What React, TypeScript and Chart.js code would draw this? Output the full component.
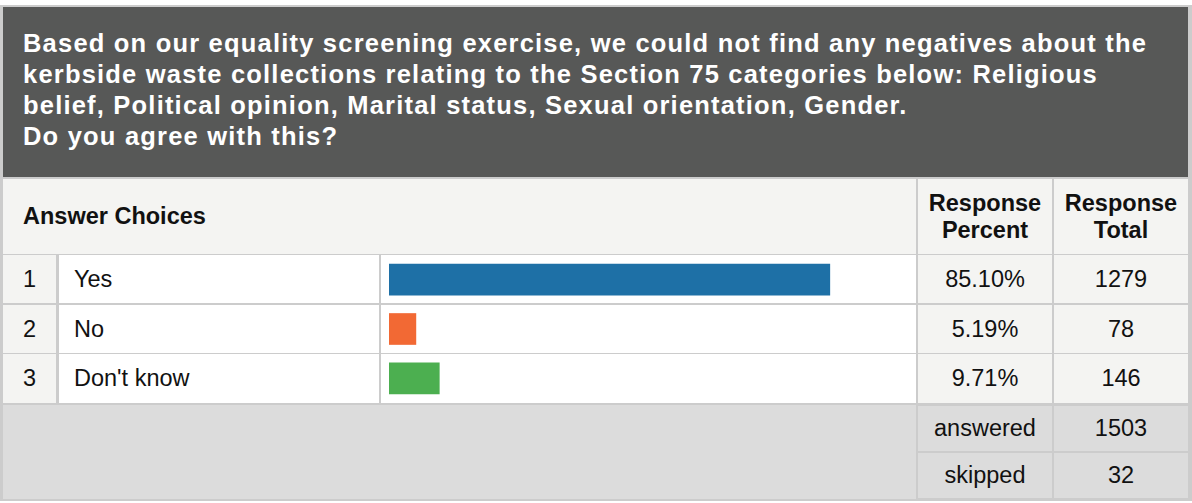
import React, { useEffect, useRef } from "react";
import { Chart, registerables } from "chart.js";

Chart.register(...registerables);

const titleLines = [
  "Based on our equality screening exercise, we could not find any negatives about the",
  "kerbside waste collections relating to the Section 75 categories below: Religious",
  "belief, Political opinion, Marital status, Sexual orientation, Gender.",
  "Do you agree with this?",
];
const categories = ["Yes", "No", "Don't know"];
const percents = [85.1, 5.19, 9.71];
const percentLabels = ["85.10%", "5.19%", "9.71%"];
const totals = [1279, 78, 146];
const barColors = ["#1e70a6", "#f26934", "#4caf50"];
const answered = 1503;
const skipped = 32;

const FONT = '"Liberation Sans", Arial, Helvetica, sans-serif';
const FS = 23.5;
const BORDER = "#cccccc";
const LIGHT = "#f4f4f2";
const FOOT = "#dcdcdc";
const TITLE_BG = "#575857";

const rows: [number, number][] = [
  [255, 303],
  [305, 353],
  [354, 403],
];
const footRows: [number, number][] = [
  [406, 451],
  [453, 498],
];
const cols = {
  num: [3, 56],
  ans: [59, 379],
  bar: [381, 916],
  pct: [918, 1052],
  tot: [1054, 1188],
};

function Cell(props: {
  x: number[];
  y: number[];
  bg: string;
  align?: "center" | "left";
  pad?: number;
  bold?: boolean;
  children?: React.ReactNode;
}) {
  const { x, y, bg, align = "center", pad = 0, bold, children } = props;
  return (
    <div
      style={{
        position: "absolute",
        left: x[0],
        top: y[0],
        width: x[1] - x[0],
        height: y[1] - y[0],
        background: bg,
        display: "flex",
        alignItems: "center",
        justifyContent: align === "center" ? "center" : "flex-start",
        paddingLeft: pad,
        boxSizing: "border-box",
        fontFamily: FONT,
        fontSize: FS,
        fontWeight: bold ? "bold" : "normal",
        color: "#111",
        textAlign: "center",
        whiteSpace: "nowrap",
        lineHeight: "26.7px",
      }}
    >
      {children}
    </div>
  );
}

export default function App() {
  const canvasRef = useRef<HTMLCanvasElement | null>(null);

  useEffect(() => {
    const canvas = canvasRef.current;
    if (!canvas) return;
    const chart = new Chart(canvas, {
      type: "bar",
      data: {
        labels: categories,
        datasets: [
          {
            data: percents,
            backgroundColor: barColors,
            borderWidth: 0,
            barThickness: 31,
          },
        ],
      },
      options: {
        indexAxis: "y",
        responsive: false,
        animation: false,
        layout: { padding: { left: 8, right: 9, top: 0, bottom: 0 } },
        plugins: { legend: { display: false }, tooltip: { enabled: false } },
        scales: {
          x: { min: 0, max: 100, display: false },
          y: { display: false },
        },
      },
    });
    return () => chart.destroy();
  }, []);

  return (
    <div
      style={{
        position: "fixed",
        left: 0,
        top: 0,
        width: 1192,
        height: 503,
        background: "#ffffff",
        overflow: "hidden",
      }}
    >
      <div
        style={{
          position: "absolute",
          left: 0,
          top: 5,
          width: 1192,
          height: 496,
          background: BORDER,
        }}
      />
      <div
        style={{
          position: "absolute",
          left: 3,
          top: 7,
          width: 1185,
          height: 170,
          background: TITLE_BG,
        }}
      >
        {titleLines.map((t, i) => (
          <div
            key={i}
            style={{
              position: "absolute",
              left: 20,
              top: 20.8 + i * 31.2,
              fontFamily: FONT,
              fontWeight: "bold",
              fontSize: 25.5,
              letterSpacing: "1.2px",
              lineHeight: "31.3px",
              color: "#ffffff",
              whiteSpace: "nowrap",
            }}
          >
            {t}
          </div>
        ))}
      </div>

      <Cell x={[3, 916]} y={[179, 254]} bg={LIGHT} align="left" pad={20} bold>
        Answer Choices
      </Cell>
      <Cell x={cols.pct} y={[179, 254]} bg={LIGHT} bold>
        Response
        <br />
        Percent
      </Cell>
      <Cell x={cols.tot} y={[179, 254]} bg={LIGHT} bold>
        Response
        <br />
        Total
      </Cell>

      {rows.map((r, i) => (
        <React.Fragment key={i}>
          <Cell x={cols.num} y={r} bg={LIGHT}>
            {String(i + 1)}
          </Cell>
          <Cell x={cols.ans} y={r} bg="#ffffff" align="left" pad={15}>
            {categories[i]}
          </Cell>
          <Cell x={cols.bar} y={r} bg="#ffffff" />
          <Cell x={cols.pct} y={r} bg={LIGHT}>
            {percentLabels[i]}
          </Cell>
          <Cell x={cols.tot} y={r} bg={LIGHT}>
            {String(totals[i])}
          </Cell>
        </React.Fragment>
      ))}

      <Cell x={[3, 916]} y={[405, 499]} bg={FOOT} />
      <Cell x={cols.pct} y={footRows[0]} bg={FOOT}>
        answered
      </Cell>
      <Cell x={cols.tot} y={footRows[0]} bg={FOOT}>
        {String(answered)}
      </Cell>
      <Cell x={cols.pct} y={footRows[1]} bg={FOOT}>
        skipped
      </Cell>
      <Cell x={cols.tot} y={footRows[1]} bg={FOOT}>
        {String(skipped)}
      </Cell>

      <canvas
        ref={canvasRef}
        width={535}
        height={148}
        style={{
          position: "absolute",
          left: 381,
          top: 255,
          width: 535,
          height: 148,
        }}
      />
    </div>
  );
}
